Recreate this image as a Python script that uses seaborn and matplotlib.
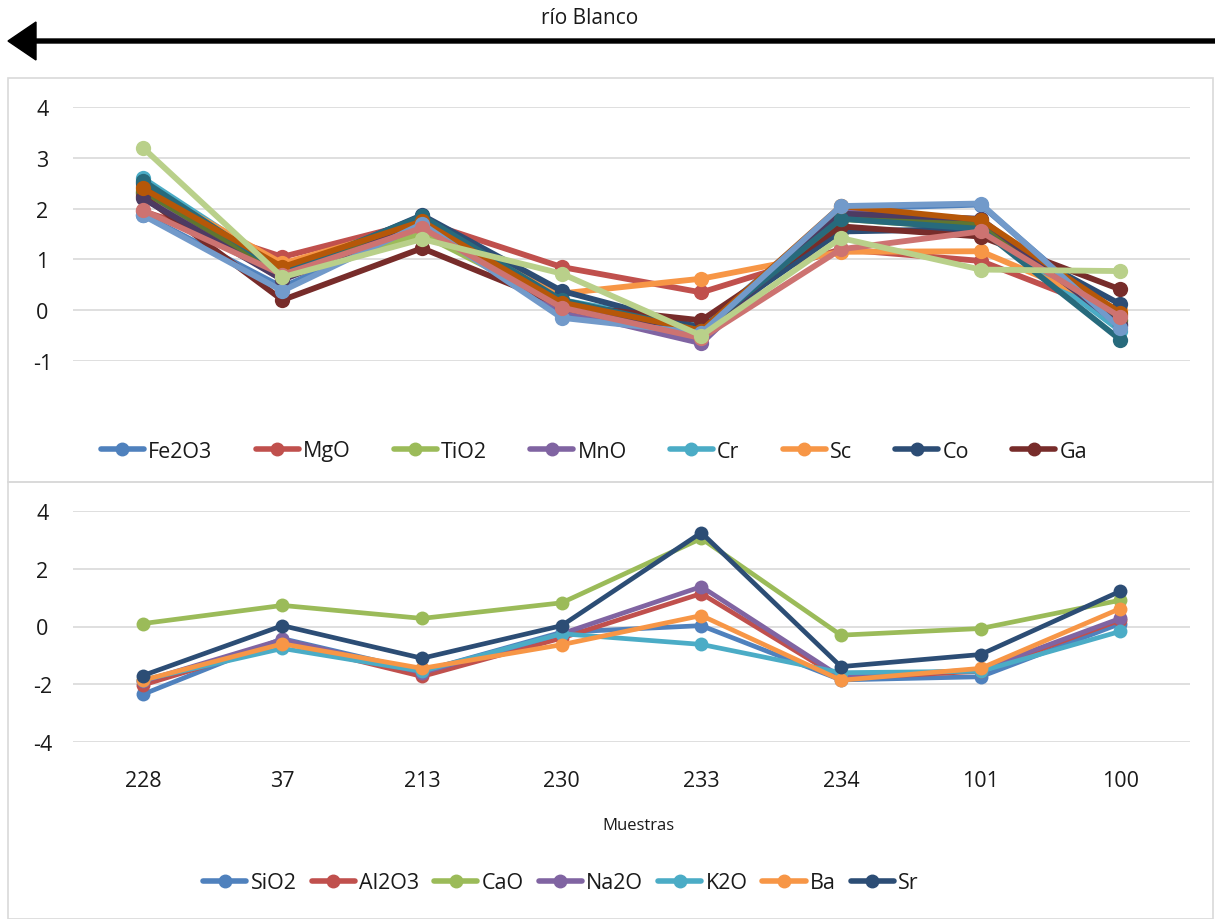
import seaborn as sns, numpy as np, pandas as pd
import matplotlib
matplotlib.use("Agg")
import matplotlib.pyplot as plt
from matplotlib.lines import Line2D
from matplotlib.patches import Rectangle, FancyArrow
from matplotlib.transforms import IdentityTransform

# muestras (orden río abajo)
muestras = ["228", "37", "213", "230", "233", "234", "101", "100"]

# panel superior: 8 series de la leyenda + series sin nombre visible en la leyenda
fe2o3 = [1.88, 0.45, 1.70, -0.10, -0.35, 2.00, 2.08, -0.30]
mgo   = [1.95, 1.05, 1.75, 0.85, 0.35, 1.20, 0.97, -0.10]
tio2  = [2.30, 0.75, 1.50, 0.10, -0.45, 1.80, 1.60, -0.20]
mno   = [2.30, 0.60, 1.65, 0.00, -0.65, 1.95, 1.75, -0.25]
cr    = [2.60, 0.80, 1.80, 0.20, -0.30, 1.85, 1.65, -0.40]
sc    = [2.45, 0.92, 1.70, 0.33, 0.62, 1.15, 1.16, 0.00]
co    = [2.50, 0.70, 1.87, 0.38, -0.35, 1.55, 1.60, 0.12]
ga    = [2.25, 0.20, 1.22, 0.10, -0.20, 1.65, 1.45, 0.41]
s9    = [2.35, 0.70, 1.75, 0.15, -0.40, 1.80, 1.70, -0.20]
s10   = [2.20, 0.60, 1.70, 0.05, -0.50, 1.90, 1.80, -0.30]
s11   = [2.55, 0.75, 1.85, 0.20, -0.40, 1.80, 1.60, -0.58]
s12   = [2.40, 0.85, 1.75, 0.15, -0.40, 2.05, 1.78, -0.05]
s13   = [1.87, 0.38, 1.70, -0.15, -0.45, 2.05, 2.10, -0.35]
s14   = [1.97, 0.70, 1.62, 0.05, -0.55, 1.20, 1.55, -0.13]
s15   = [3.20, 0.65, 1.40, 0.72, -0.50, 1.42, 0.80, 0.77]

top_names = ["Fe2O3", "MgO", "TiO2", "MnO", "Cr", "Sc", "Co", "Ga",
             "s9", "s10", "s11", "s12", "s13", "s14", "s15"]
top_vals = [fe2o3, mgo, tio2, mno, cr, sc, co, ga, s9, s10, s11, s12, s13, s14, s15]
top_legend = top_names[:8]

# panel inferior
sio2  = [-2.35, -0.42, -1.55, -0.20, 0.03, -1.85, -1.74, 0.10]
al2o3 = [-2.03, -0.55, -1.73, -0.40, 1.14, -1.80, -1.55, 0.22]
cao   = [0.10, 0.73, 0.28, 0.82, 3.05, -0.30, -0.07, 0.91]
na2o  = [-1.90, -0.45, -1.60, -0.25, 1.38, -1.75, -1.50, 0.28]
k2o   = [-1.85, -0.76, -1.55, -0.25, -0.62, -1.60, -1.55, -0.17]
ba    = [-1.86, -0.60, -1.45, -0.63, 0.38, -1.86, -1.45, 0.62]
sr    = [-1.70, 0.03, -1.10, 0.03, 3.25, -1.39, -0.97, 1.22]

bot_names = ["SiO2", "Al2O3", "CaO", "Na2O", "K2O", "Ba", "Sr"]
bot_vals = [sio2, al2o3, cao, na2o, k2o, ba, sr]

excel = ["#4F81BD", "#C0504D", "#9BBB59", "#8064A2", "#4BACC6", "#F79646",
         "#2C4D75", "#772C2A", "#5F7530", "#4D3B62", "#276A7C", "#B65708",
         "#729ACA", "#CD7371", "#B9D08A"]


def long_df(names, vals):
    rows = []
    for n, v in zip(names, vals):
        for i, y in enumerate(v):
            rows.append({"serie": n, "pos": i, "valor": y})
    return pd.DataFrame(rows)


sns.set_style("white")
plt.rcParams["font.family"] = ["Open Sans", "DejaVu Sans"]
txt = "#1a1a1a"

fig = plt.figure(figsize=(12.15, 9.2), dpi=100)

ax1 = fig.add_axes([73 / 1215, 1 - 362 / 920, 1117 / 1215, 254 / 920])
ax2 = fig.add_axes([73 / 1215, 1 - 743 / 920, 1117 / 1215, 231 / 920])

pal_top = dict(zip(top_names, excel[:len(top_names)]))
pal_bot = dict(zip(bot_names, excel[:len(bot_names)]))

sns.lineplot(data=long_df(top_names, top_vals), x="pos", y="valor", hue="serie",
             hue_order=top_names, palette=pal_top, marker="o", markersize=11,
             markeredgewidth=0, linewidth=4.2, sort=False, legend=False, ax=ax1)
sns.lineplot(data=long_df(bot_names, bot_vals), x="pos", y="valor", hue="serie",
             hue_order=bot_names, palette=pal_bot, marker="o", markersize=10,
             markeredgewidth=0, linewidth=3.4, sort=False, legend=False, ax=ax2)

for ax, lo, hi, step in [(ax1, -1, 4, 1), (ax2, -4, 4, 2)]:
    ax.set_xlim(-0.5, 7.5)
    ax.set_ylim(lo, hi)
    ax.set_yticks(np.arange(lo, hi + 0.1, step))
    ax.set_yticklabels([str(int(t)) for t in np.arange(lo, hi + 0.1, step)])
    ax.grid(axis="y", color="#D9D9D9", linewidth=1.2)
    ax.set_axisbelow(True)
    for s in ax.spines.values():
        s.set_visible(False)
    ax.set_xlabel("")
    ax.set_ylabel("")
    ax.tick_params(axis="y", length=0, pad=22, labelsize=15.5, labelcolor=txt)
    for t in ax.get_yticklabels():
        t.set_horizontalalignment("center")

ax1.set_xticks([])
ax2.set_xticks(range(len(muestras)))
ax2.set_xticklabels(muestras)
ax2.tick_params(axis="x", length=0, pad=20, labelsize=15.5, labelcolor=txt)

fig.text(638 / 1215, 1 - 826 / 920, "Muestras", ha="center", va="center",
         fontsize=12, color=txt)

# leyendas
h_top = [Line2D([0], [0], color=pal_top[n], lw=4, marker="o", markersize=9) for n in top_legend]
h_bot = [Line2D([0], [0], color=pal_bot[n], lw=4, marker="o", markersize=9) for n in bot_names]
fig.legend(h_top, top_legend, loc="center", bbox_to_anchor=(594 / 1215, 1 - 452 / 920),
           ncol=8, frameon=False, fontsize=15.5, handlelength=2.0, handletextpad=0.2,
           columnspacing=2.0, labelcolor=txt)
fig.legend(h_bot, bot_names, loc="center", bbox_to_anchor=(561 / 1215, 1 - 884 / 920),
           ncol=7, frameon=False, fontsize=15.5, handlelength=2.0, handletextpad=0.2,
           columnspacing=0.7, labelcolor=txt)

# marcos de los paneles
fig.add_artist(Rectangle((8 / 1215, 1 - 483 / 920), 1205 / 1215, 404 / 920,
                         transform=fig.transFigure, fill=False, ec="#D9D9D9", lw=1.2))
fig.add_artist(Rectangle((8 / 1215, 0.0), 1205 / 1215, 437 / 920,
                         transform=fig.transFigure, fill=False, ec="#D9D9D9", lw=1.2))

# flecha y título
fig.add_artist(FancyArrow(1215, 920 - 42, -1207, 0, width=4, head_width=38,
                          head_length=28, length_includes_head=True, color="black",
                          transform=IdentityTransform()))
fig.text(590 / 1215, 1 - 18 / 920, "río Blanco", ha="center", va="center",
         fontsize=15, color=txt)

fig.savefig("out.png", dpi=100)
